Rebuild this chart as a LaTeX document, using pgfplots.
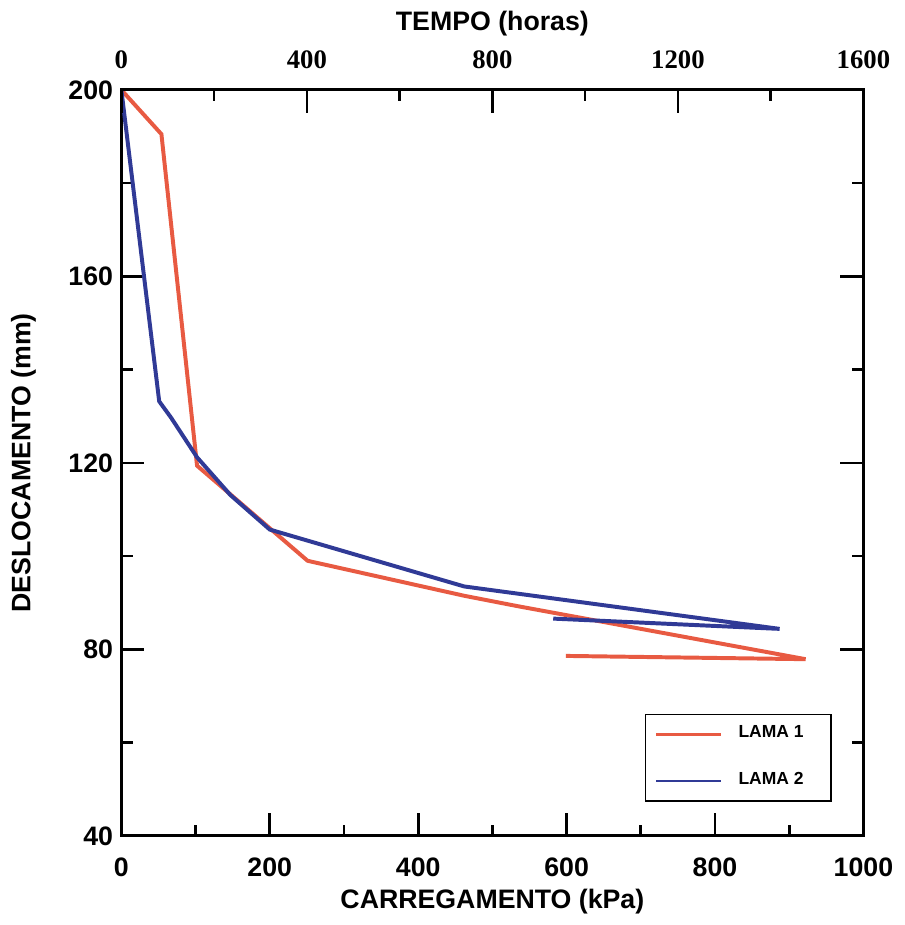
\documentclass[border=0pt]{standalone}
\usepackage{fontspec}
\setmainfont{Liberation Sans}
\newfontfamily\serifb{Liberation Serif}
\usepackage{pgfplots}
\pgfplotsset{compat=1.18}
\definecolor{lama1}{RGB}{232,90,66}
\definecolor{lama2}{RGB}{48,58,150}
\newcommand{\lbl}{\bfseries\fontsize{8.1}{9}\selectfont}

\begin{document}
\begin{tikzpicture}
\begin{axis}[
  scale only axis, width=225pt, height=226.2pt,
  xmin=0, xmax=1000, ymin=40, ymax=200,
  xtick={0,200,...,1000}, ytick={40,80,...,200},
  minor x tick num=1, minor y tick num=1,
  tick align=inside, xtick pos=bottom, ytick pos=both, yticklabel pos=left,
  major tick length=7pt, minor tick length=3.4pt,
  axis line style={line width=0.9pt},
  every tick/.style={black, line width=0.8pt},
  label style={font=\lbl},
  ticklabel style={font=\lbl},
  /pgf/number format/assume math mode=true,
  /pgf/number format/1000 sep={},
  xticklabel style={yshift=-3pt},
  yticklabel style={xshift=1pt},
  xlabel={CARREGAMENTO (kPa)}, ylabel={DESLOCAMENTO (mm)},
  xlabel style={yshift=3pt}, ylabel style={yshift=3pt},
  legend style={at={(0.705,0.164)}, anchor=north west, draw=black,
    line width=0.4pt, font=\bfseries\fontsize{5.3}{6}\selectfont,
    inner xsep=3pt, inner ysep=1.5pt, row sep=5pt, cells={anchor=west},
    /tikz/every odd column/.append style={column sep=3pt}},
  legend image code/.code={\draw[#1,line width=0.8pt] (0pt,0pt) -- (19.5pt,0pt);},
]
\addplot[lama1, line width=1.2pt] coordinates
 {(0,200)(54,190.5)(102,119.4)(251,99)(462,91.5)(533,89.3)(922,77.9)(599,78.6)};
\addlegendentry{\makebox[23pt][l]{LAMA 1}}
\addplot[lama2, line width=1.2pt] coordinates
 {(0,200)(51,133.2)(67,129.7)(102,121.2)(147,113.1)(200,105.7)(462,93.5)(887,84.4)(582,86.6)};
\addlegendentry{\makebox[23pt][l]{LAMA 2}}
\end{axis}
\begin{axis}[
  scale only axis, width=225pt, height=226.2pt,
  xmin=0, xmax=1600, ymin=40, ymax=200,
  axis x line*=top, axis y line=none,
  xtick={0,400,...,1600}, minor x tick num=1,
  tick align=inside,
  major tick length=7pt, minor tick length=3.4pt,
  axis line style={line width=0.9pt},
  every tick/.style={black, line width=0.8pt},
  /pgf/number format/assume math mode=true,
  /pgf/number format/1000 sep={},
  xticklabel style={font=\serifb\bfseries\fontsize{8.1}{9}\selectfont, yshift=3pt},
  xlabel={TEMPO (horas)}, label style={font=\lbl},
  xlabel style={yshift=-2.5pt},
]
\end{axis}
\end{tikzpicture}
\end{document}
